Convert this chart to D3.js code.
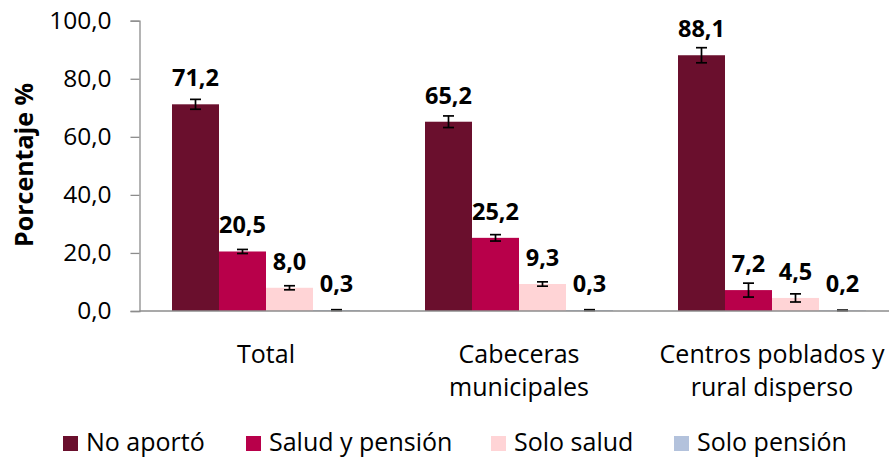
<!DOCTYPE html>
<html>
<head>
<meta charset="utf-8">
<script src="https://cdn.jsdelivr.net/npm/d3@7"></script>
<style>
  html, body { margin: 0; padding: 0; background: #fff; }
  svg { display: block; }
  text { font-family: "Open Sans", "Noto Sans", sans-serif; fill: #000; }
</style>
</head>
<body>
<svg id="chart" width="889" height="458"></svg>
<script>
// Categories (multi-line labels) and series
const categories = ["Total", "Cabeceras municipales", "Centros poblados y rural disperso"];
const categoryLines = [["Total"], ["Cabeceras", "municipales"], ["Centros poblados y", "rural disperso"]];
const seriesNames = ["No aportó", "Salud y pensión", "Solo salud", "Solo pensión"];
const seriesColors = ["#6a0f2d", "#b8004a", "#ffd4d6", "#b3c2dc"];

// Percentages per series, in category order
const noAporto      = [71.2, 65.2, 88.1];
const saludPension  = [20.5, 25.2, 7.2];
const soloSalud     = [8.0, 9.3, 4.5];
const soloPension   = [0.3, 0.3, 0.2];

// Half-width of the confidence interval per series
const errNoAporto     = [1.7, 2.0, 2.6];
const errSaludPension = [0.7, 1.1, 2.4];
const errSoloSalud    = [0.7, 0.75, 1.4];
const errSoloPension  = [0.15, 0.15, 0.1];

const yTicks = [0, 20, 40, 60, 80, 100];

const values = [noAporto, saludPension, soloSalud, soloPension];
const errors = [errNoAporto, errSaludPension, errSoloSalud, errSoloPension];

const svg = d3.select("#chart");
const fmt = v => v.toFixed(1).replace(".", ",");

const x0 = d3.scaleBand().domain(categories).range([139.5, 898.5]).paddingInner(0).paddingOuter(0);
const groupWidth = 188;
const x1 = d3.scaleBand().domain(seriesNames).range([0, groupWidth]).padding(0);
const y = d3.scaleLinear().domain([0, 100]).range([311, 20.7]);

// Y axis
const yAxis = d3.axisLeft(y).tickValues(yTicks).tickSize(9).tickFormat(fmt);
const gy = svg.append("g").attr("transform", "translate(139.5,0)").call(yAxis);
gy.select(".domain").attr("stroke", "#8c8c8c").attr("stroke-width", 1.3);
gy.selectAll(".tick line").attr("stroke", "#8c8c8c").attr("stroke-width", 1.3);
gy.selectAll(".tick text").attr("x", -28).attr("font-size", 24.5).attr("fill", "#000")
  .attr("font-family", "'Open Sans', sans-serif");

// Bars
const groups = svg.append("g").selectAll("g")
  .data(categories)
  .join("g")
  .attr("transform", d => `translate(${x0(d) + (x0.bandwidth() - groupWidth) / 2},0)`);

seriesNames.forEach((s, si) => {
  groups.append("rect")
    .attr("x", x1(s))
    .attr("width", x1.bandwidth())
    .attr("y", (d, ci) => y(values[si][ci]))
    .attr("height", (d, ci) => y(0) - y(values[si][ci]))
    .attr("fill", seriesColors[si]);
});

// Error bars
seriesNames.forEach((s, si) => {
  const cx = x1(s) + x1.bandwidth() / 2;
  const eb = groups.append("g").attr("stroke", "#000").attr("stroke-width", 1.7);
  eb.append("line")
    .attr("x1", cx).attr("x2", cx)
    .attr("y1", (d, ci) => y(values[si][ci] + errors[si][ci]))
    .attr("y2", (d, ci) => y(values[si][ci] - errors[si][ci]));
  [1, -1].forEach(sign => {
    eb.append("line")
      .attr("x1", cx - 5.5).attr("x2", cx + 5.5)
      .attr("y1", (d, ci) => y(values[si][ci] + sign * errors[si][ci]))
      .attr("y2", (d, ci) => y(values[si][ci] + sign * errors[si][ci]));
  });
});

// Value labels
seriesNames.forEach((s, si) => {
  groups.append("text")
    .attr("x", x1(s) + x1.bandwidth() / 2)
    .attr("y", (d, ci) => y(values[si][ci]) - 18)
    .attr("text-anchor", "middle")
    .attr("font-size", 23.5)
    .attr("font-weight", "bold")
    .text((d, ci) => fmt(values[si][ci]));
});

// X axis line
svg.append("line")
  .attr("x1", 139.5).attr("x2", 889)
  .attr("y1", y(0)).attr("y2", y(0))
  .attr("stroke", "#8c8c8c").attr("stroke-width", 1.3);

// Category labels
const cl = svg.append("g").selectAll("text")
  .data(categories)
  .join("text")
  .attr("text-anchor", "middle")
  .attr("font-size", 25)
  .attr("transform", d => `translate(${x0(d) + x0.bandwidth() / 2},0)`);
cl.each(function(d, i) {
  d3.select(this).selectAll("tspan")
    .data(categoryLines[i])
    .join("tspan")
    .attr("x", 0)
    .attr("y", (t, j) => 363 + j * 33)
    .text(t => t);
});

// Y axis title
svg.append("text")
  .attr("transform", "translate(33,165) rotate(-90)")
  .attr("text-anchor", "middle")
  .attr("font-size", 25)
  .attr("font-weight", "bold")
  .text("Porcentaje %");

// Legend
const legendX = [63, 246, 491, 674];
const lg = svg.append("g").selectAll("g")
  .data(seriesNames)
  .join("g")
  .attr("transform", (d, i) => `translate(${legendX[i]},0)`);
lg.append("rect").attr("x", 0).attr("y", 436).attr("width", 15).attr("height", 15)
  .attr("fill", (d, i) => seriesColors[i]);
lg.append("text").attr("x", 23).attr("y", 451).attr("font-size", 25).text(d => d);
</script>
</body>
</html>
